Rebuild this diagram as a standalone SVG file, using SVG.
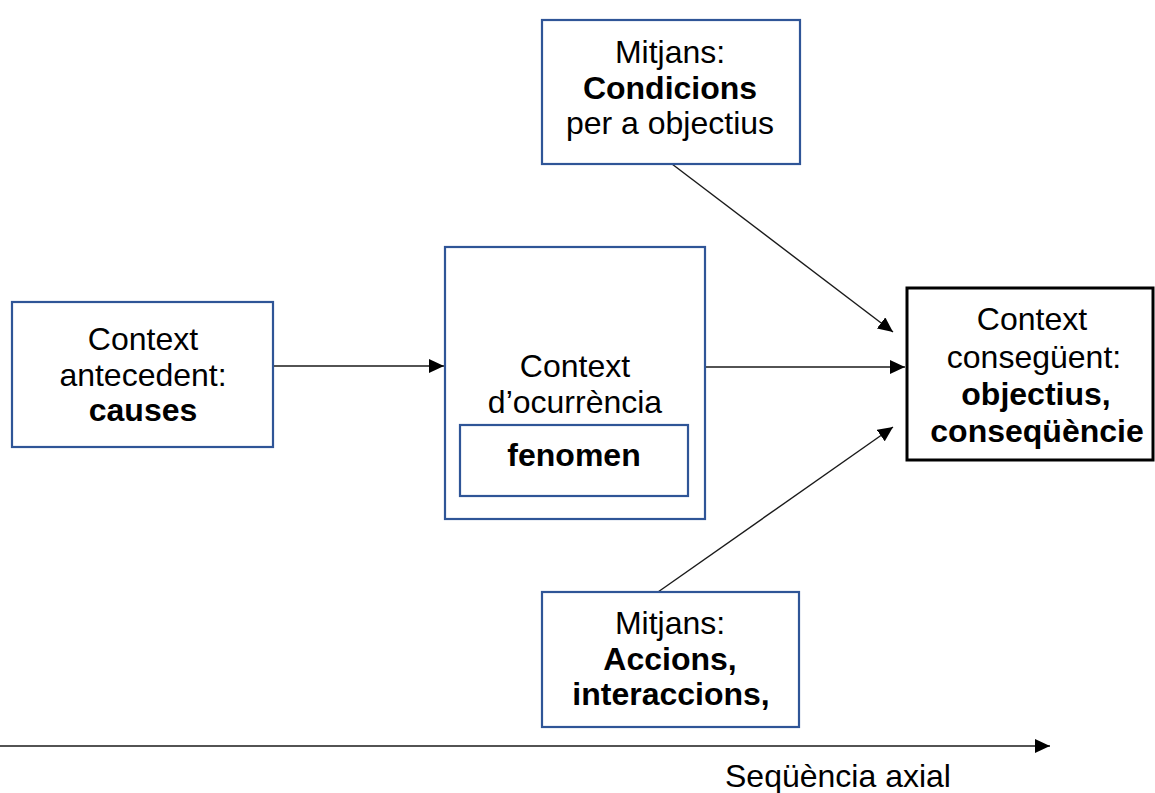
<svg xmlns="http://www.w3.org/2000/svg" width="1155" height="793" viewBox="0 0 1155 793">
  <style>
    .box { fill: #ffffff; stroke: #2f5597; stroke-width: 2.2; }
    .box-dark { fill: #ffffff; stroke: #000000; stroke-width: 3; }
    .txt { font-family: "Liberation Sans", Arial, sans-serif; font-size: 32px; fill: #000000; text-anchor: middle; }
    .b { font-weight: bold; }
    .link { stroke: #1a1a1a; stroke-width: 1.4; fill: none; marker-end: url(#arrow); }
  </style>
  <defs>
    <marker id="arrow" markerUnits="userSpaceOnUse" markerWidth="16" markerHeight="14" refX="15" refY="7" orient="auto">
      <path d="M0,0 L15,7 L0,14 Z" fill="#000000"/>
    </marker>
  </defs>

  <rect width="1155" height="793" fill="#ffffff"/>

  <!-- connectors -->
  <g id="connectors">
    <line class="link" x1="273" y1="366" x2="444" y2="366"/>
    <line class="link" x1="705" y1="367" x2="905" y2="367"/>
    <line class="link" x1="672" y1="164" x2="893" y2="332"/>
    <line class="link" x1="658" y1="592" x2="893" y2="427"/>
    <line class="link" x1="0" y1="746" x2="1050" y2="746"/>
  </g>

  <!-- top: conditions -->
  <g id="node-condicions">
    <rect class="box" x="542" y="20" width="258" height="144"/>
    <text class="txt" x="670" y="63">Mitjans:</text>
    <text class="txt b" x="670" y="99">Condicions</text>
    <text class="txt" x="670" y="134">per a objectius</text>
  </g>

  <!-- left: antecedent context -->
  <g id="node-antecedent">
    <rect class="box" x="12" y="302" width="261" height="145"/>
    <text class="txt" x="143" y="350">Context</text>
    <text class="txt" x="143" y="386">antecedent:</text>
    <text class="txt b" x="143" y="421">causes</text>
  </g>

  <!-- centre: occurrence context with phenomenon -->
  <g id="node-ocurrencia">
    <rect class="box" x="445" y="247" width="260" height="272"/>
    <text class="txt" x="575" y="377">Context</text>
    <text class="txt" x="575" y="413">d’ocurrència</text>
  </g>
  <g id="node-fenomen">
    <rect class="box" x="460" y="425" width="228" height="71"/>
    <text class="txt b" x="574" y="466">fenomen</text>
  </g>

  <!-- right: consequent context -->
  <g id="node-consequent">
    <rect class="box-dark" x="907" y="288" width="246" height="172"/>
    <text class="txt" x="1032" y="330">Context</text>
    <text class="txt" x="1034" y="368">consegüent:</text>
    <text class="txt b" x="1036" y="405">objectius,</text>
    <text class="txt b" x="1037" y="442">conseqüèncie</text>
  </g>

  <!-- bottom: actions -->
  <g id="node-accions">
    <rect class="box" x="542" y="592" width="257" height="135"/>
    <text class="txt" x="670" y="634">Mitjans:</text>
    <text class="txt b" x="670" y="670">Accions,</text>
    <text class="txt b" x="671" y="705">interaccions,</text>
  </g>

  <!-- axis label -->
  <g id="axis-label">
    <text class="txt" x="725" y="787" style="text-anchor:start">Seqüència axial</text>
  </g>
</svg>
